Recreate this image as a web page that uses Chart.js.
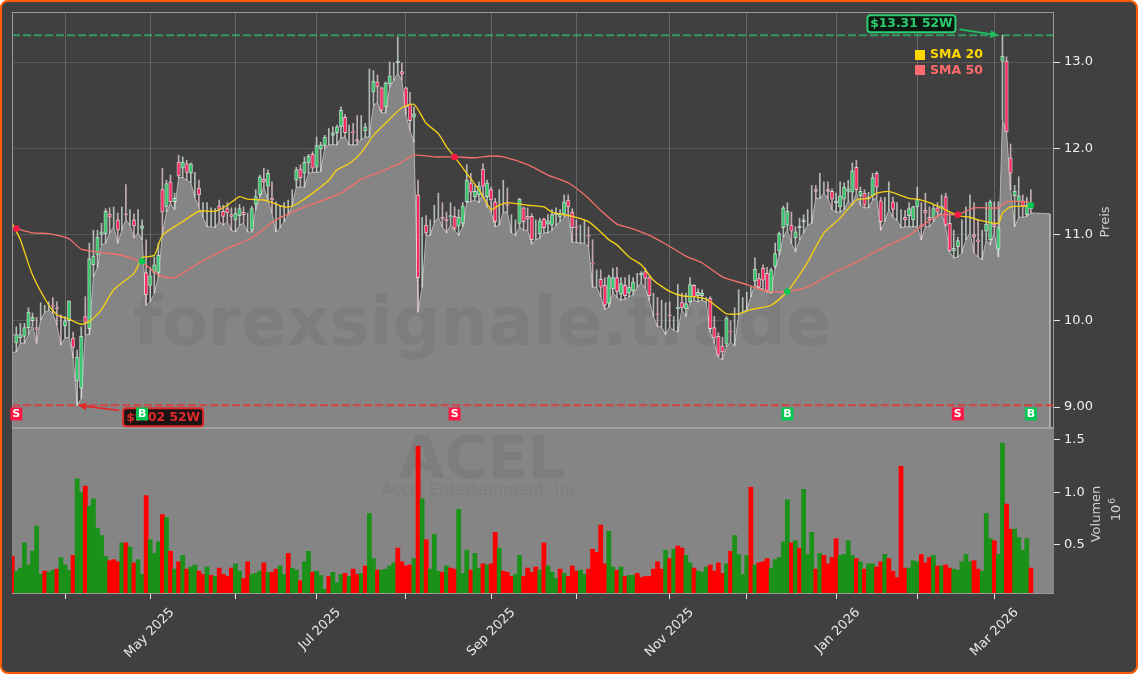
<!DOCTYPE html>
<html>
<head>
<meta charset="utf-8">
<title>ACEL</title>
<script src="https://cdn.jsdelivr.net/npm/chart.js@4/dist/chart.umd.min.js"></script>
<style>
  body { margin: 0; background: #fff; }
  #frame { position: relative; width: 1138px; height: 674px; box-sizing: border-box; background: #404040; border: 2px solid #ff5a00; border-radius: 8px; }
  #chart { position: absolute; left: -2px; top: -2px; }
</style>
</head>
<body>
<div id="frame"><canvas id="chart" width="1138" height="674"></canvas></div>
<script>
// daily candles (one row = 10 trading days)
const opens = [
  9.84,9.74,9.80,9.82,9.92,10.00,9.92,10.07,10.13,10.17,
  10.18,10.15,10.05,9.94,10.00,9.80,9.30,9.22,10.05,9.91,
  10.65,10.76,11.00,11.01,11.24,11.16,11.17,11.15,11.24,11.21,
  11.17,11.16,11.07,10.56,10.41,10.56,10.56,11.52,11.32,11.61,
  11.38,11.84,11.77,11.82,11.71,11.56,11.54,11.31,11.26,11.23,
  11.21,11.33,11.27,11.30,11.23,11.17,11.22,11.26,11.21,11.05,
  11.35,11.46,11.64,11.56,11.42,11.23,11.21,11.21,11.29,11.43,
  11.63,11.76,11.71,11.83,11.93,11.78,11.99,12.03,12.11,12.15,
  12.18,12.25,12.36,12.19,12.19,12.10,12.21,12.20,12.60,12.65,
  12.77,12.70,12.48,12.75,12.89,12.99,12.89,12.70,12.51,12.36,
  11.46,10.91,11.11,11.08,11.21,11.31,11.20,11.18,11.20,11.21,
  11.10,11.13,11.38,11.60,11.44,11.46,11.76,11.44,11.52,11.38,
  11.31,11.41,11.35,11.11,11.11,11.13,11.31,11.21,11.21,11.07,
  11.01,11.18,11.12,11.11,11.23,11.20,11.24,11.40,11.26,11.09,
  11.01,11.06,10.99,10.67,10.51,10.48,10.41,10.20,10.37,10.50,
  10.31,10.41,10.32,10.35,10.46,10.53,10.57,10.50,10.14,10.08,
  10.06,10.02,10.07,9.97,10.14,10.21,10.14,10.22,10.41,10.29,
  10.29,10.23,10.26,9.92,9.82,9.71,9.73,9.88,9.91,10.21,
  10.11,10.21,10.35,10.46,10.49,10.61,10.55,10.33,10.63,10.81,
  11.08,11.11,11.11,10.96,11.08,11.15,11.21,11.36,11.52,11.50,
  11.53,11.52,11.50,11.37,11.32,11.41,11.50,11.49,11.78,11.45,
  11.48,11.41,11.45,11.71,11.39,11.31,11.41,11.38,11.26,11.16,
  11.20,11.22,11.17,11.32,11.11,11.28,11.20,11.19,11.31,11.31,
  11.44,11.13,10.81,10.86,11.01,11.11,11.31,11.00,10.94,10.91,
  11.04,10.94,11.12,10.83,13.01,13.01,11.89,11.45,11.38,11.39,11.23,11.34
];
const highs = [
  10.06,9.93,9.97,9.97,10.15,10.09,10.04,10.21,10.18,10.22,
  10.27,10.22,10.07,10.05,10.23,9.87,9.66,9.93,10.28,10.90,
  11.05,11.05,11.13,11.30,11.31,11.32,11.25,11.32,11.58,11.29,
  11.24,11.29,11.17,10.94,10.62,10.74,10.90,11.77,11.63,11.69,
  11.48,11.92,11.90,11.86,11.83,11.72,11.63,11.37,11.37,11.31,
  11.30,11.40,11.34,11.37,11.31,11.31,11.35,11.32,11.25,11.33,
  11.52,11.69,11.77,11.75,11.61,11.38,11.34,11.37,11.40,11.52,
  11.78,11.81,11.90,11.93,11.96,12.13,12.07,12.15,12.23,12.25,
  12.27,12.48,12.39,12.27,12.29,12.38,12.38,12.29,12.92,12.90,
  12.85,12.71,12.77,13.00,12.99,13.29,12.99,12.71,12.65,12.48,
  11.63,11.20,11.22,11.17,11.34,11.48,11.37,11.26,11.37,11.32,
  11.29,11.37,11.81,11.71,11.57,11.61,11.82,11.63,11.55,11.42,
  11.52,11.63,11.54,11.23,11.17,11.42,11.32,11.31,11.24,11.17,
  11.19,11.19,11.23,11.29,11.31,11.29,11.46,11.46,11.30,11.17,
  11.11,11.17,11.09,10.94,10.59,10.59,10.50,10.53,10.61,10.62,
  10.50,10.50,10.53,10.50,10.55,10.57,10.61,10.52,10.32,10.27,
  10.24,10.21,10.22,10.05,10.42,10.32,10.32,10.50,10.42,10.37,
  10.36,10.27,10.28,10.05,9.86,9.81,10.05,10.00,10.15,10.36,
  10.27,10.33,10.39,10.73,10.55,10.65,10.62,10.61,10.90,11.03,
  11.33,11.37,11.26,11.09,11.19,11.23,11.29,11.57,11.57,11.71,
  11.61,11.61,11.53,11.48,11.61,11.60,11.63,11.83,11.86,11.55,
  11.52,11.49,11.71,11.73,11.43,11.43,11.61,11.43,11.37,11.29,
  11.28,11.37,11.33,11.55,11.37,11.48,11.32,11.34,11.37,11.46,
  11.48,11.25,11.05,10.97,11.17,11.32,11.46,11.37,11.17,11.05,
  11.37,11.40,11.38,11.38,13.31,13.06,12.05,11.57,11.67,11.46,11.43,11.52
];
const lows = [
  9.63,9.64,9.74,9.74,9.84,9.95,9.74,10.01,10.10,10.12,
  10.09,9.95,9.72,9.80,9.81,9.57,9.02,9.10,9.84,9.84,
  10.51,10.62,10.88,10.90,11.02,11.09,10.90,11.05,11.17,11.11,
  10.96,11.02,10.94,10.18,10.22,10.32,10.51,11.00,11.26,11.36,
  11.29,11.66,11.66,11.63,11.60,11.43,11.32,11.20,11.09,11.09,
  11.08,11.15,11.11,11.15,11.05,11.03,11.11,11.13,11.03,11.03,
  11.29,11.44,11.55,11.40,11.25,11.03,11.08,11.15,11.23,11.34,
  11.55,11.55,11.55,11.71,11.72,11.72,11.73,12.00,12.04,12.04,
  12.04,12.12,12.13,12.04,12.04,12.04,12.10,12.13,12.13,12.50,
  12.53,12.41,12.41,12.71,12.79,12.87,12.79,12.39,12.21,12.07,
  10.10,10.39,10.99,10.99,11.14,11.20,11.09,11.02,11.11,11.05,
  10.99,11.09,11.37,11.38,11.40,11.37,11.48,11.32,11.26,11.09,
  11.11,11.26,11.26,11.02,10.99,11.09,11.05,11.05,10.89,10.94,
  10.96,11.02,11.02,11.05,11.11,11.15,11.20,11.23,10.91,10.91,
  10.90,10.90,10.86,10.39,10.39,10.28,10.13,10.16,10.33,10.27,
  10.24,10.25,10.28,10.30,10.39,10.44,10.38,10.23,10.05,9.93,
  9.93,9.84,9.93,9.89,9.87,10.13,10.05,10.21,10.24,10.22,
  10.24,10.21,9.87,9.74,9.58,9.55,9.70,9.75,9.71,10.07,
  10.10,10.13,10.28,10.42,10.38,10.37,10.33,10.32,10.61,10.76,
  10.97,11.05,10.90,10.80,10.94,11.02,11.11,11.13,11.42,11.42,
  11.48,11.42,11.29,11.26,11.26,11.29,11.39,11.34,11.48,11.34,
  11.31,11.31,11.40,11.43,11.05,11.15,11.29,11.20,11.17,11.08,
  11.09,11.09,11.09,11.09,10.94,11.09,11.09,11.15,11.23,11.25,
  11.09,10.80,10.73,10.74,10.79,10.94,11.02,10.79,10.74,10.71,
  10.94,10.88,11.02,10.74,12.33,12.19,11.52,11.09,11.20,11.20,11.21,11.25
];
const closes = [
  9.83,9.84,9.84,9.92,10.10,10.04,9.90,10.07,10.13,10.17,
  10.17,10.14,10.04,10.00,10.23,9.69,9.58,9.82,9.98,10.72,
  10.75,10.97,11.03,11.27,11.20,11.16,11.05,11.15,11.23,11.21,
  11.10,11.16,11.10,10.30,10.52,10.65,10.76,11.26,11.59,11.38,
  11.42,11.68,11.84,11.72,11.82,11.56,11.46,11.31,11.26,11.23,
  11.21,11.29,11.21,11.25,11.21,11.25,11.30,11.23,11.21,11.30,
  11.44,11.67,11.61,11.71,11.40,11.23,11.21,11.21,11.29,11.43,
  11.75,11.66,11.84,11.91,11.77,12.03,12.04,12.13,12.11,12.18,
  12.25,12.44,12.18,12.19,12.18,12.08,12.21,12.25,12.60,12.78,
  12.71,12.44,12.76,12.84,12.89,13.01,12.86,12.48,12.32,12.40,
  10.50,10.91,11.02,11.08,11.21,11.31,11.18,11.16,11.22,11.07,
  11.20,11.33,11.63,11.49,11.50,11.56,11.56,11.60,11.40,11.15,
  11.31,11.41,11.34,11.11,11.11,11.41,11.15,11.18,10.94,11.07,
  11.16,11.08,11.16,11.23,11.25,11.24,11.38,11.32,11.08,11.08,
  11.01,11.06,10.98,10.66,10.51,10.39,10.18,10.51,10.50,10.34,
  10.43,10.29,10.39,10.45,10.46,10.55,10.49,10.29,10.14,10.07,
  10.06,10.02,10.06,9.97,10.16,10.15,10.20,10.42,10.28,10.33,
  10.32,10.23,9.91,9.80,9.60,9.64,10.03,9.87,9.91,10.21,
  10.11,10.21,10.35,10.60,10.39,10.47,10.35,10.59,10.78,11.01,
  11.31,11.27,11.04,11.03,11.10,11.17,11.21,11.36,11.50,11.50,
  11.53,11.50,11.41,11.39,11.45,11.55,11.53,11.74,11.52,11.50,
  11.34,11.43,11.66,11.55,11.15,11.31,11.41,11.29,11.26,11.16,
  11.17,11.30,11.32,11.41,11.09,11.25,11.17,11.30,11.26,11.33,
  11.11,10.81,10.84,10.93,11.01,11.11,11.31,10.97,10.92,10.91,
  11.12,11.38,11.09,11.08,13.07,12.19,11.71,11.50,11.45,11.33,11.34,11.30
];

// volume in millions, with the bar colour side (G up, R down)
const volumes = [
  .39,.25,.28,.52,.31,.44,.68,.22,.25,.24,
  .26,.27,.38,.31,.26,.40,1.13,1.00,1.06,.87,
  .94,.66,.59,.39,.35,.36,.34,.52,.52,.48,
  .33,.36,.22,.97,.55,.42,.53,.79,.76,.44,
  .27,.34,.40,.27,.29,.31,.25,.22,.29,.21,
  .20,.28,.22,.20,.28,.32,.25,.18,.34,.22,
  .23,.25,.33,.24,.24,.27,.30,.22,.42,.28,
  .26,.16,.34,.44,.24,.25,.21,.08,.20,.24,
  .14,.22,.23,.20,.27,.22,.23,.30,.80,.37,
  .26,.26,.27,.30,.33,.47,.34,.30,.31,.37,
  1.44,.94,.55,.27,.60,.25,.24,.30,.28,.27,
  .84,.23,.45,.26,.42,.28,.32,.31,.32,.62,
  .47,.25,.24,.20,.22,.40,.20,.28,.24,.29,
  .26,.52,.30,.24,.18,.27,.23,.20,.30,.25,
  .26,.22,.27,.46,.43,.69,.32,.63,.29,.26,
  .29,.20,.21,.21,.23,.19,.20,.20,.27,.34,
  .27,.45,.37,.46,.49,.47,.40,.33,.28,.25,
  .24,.29,.31,.25,.33,.23,.32,.44,.59,.41,
  .22,.40,1.05,.31,.33,.34,.37,.28,.36,.38,
  .53,.93,.52,.54,.47,1.03,.41,.62,.27,.42,
  .40,.32,.38,.56,.40,.41,.54,.40,.37,.34,
  .27,.32,.32,.29,.34,.41,.37,.25,.19,1.25,
  .28,.28,.35,.34,.41,.33,.38,.40,.30,.30,
  .31,.28,.27,.26,.34,.41,.34,.35,.27,.25,
  .80,.56,.54,.41,1.47,.89,.65,.65,.57,.45,.56,.28
];
const volumeSides =
  "RGGGGGGGRG" + "GRGGGRGGRG" + "GGGGRRRGRG" + "RGGRGGGRGR" + "GRGRGGRRGR" +
  "GRRRRGGRRG" + "GGRGRRGGRG" + "GRGGRGGGRG" + "GGRGRRGRGG" + "RGGGGRRRRG" +
  "RGRGGGRGRR" + "GGGRGGRGRR" + "GRRRGGRRRR" + "GRGGGRGRRR" + "GGRRRRRGGR" +
  "GRGGRRRRRR" + "RGRGRRGGRG" + "GGRRRRGRGG" + "GGRGRRRGGG" + "GGRGRGGGRG" +
  "RRRRGGGGRG" + "RGGRRGRRRR" + "RGGGRRRGRG" + "RRGGGGGRRG" + "GGRGGRRGGGGR";

// moving averages, read at the bends of the lines (trading day, price)
const sma20Days = [0,2,5,9,11,14,17,19,22,25,30,32,35,37,42,46,50,53,56,58,62,64,67,69,71,74,78,80,83,86,89,92,96,99,102,105,107,109,112,115,118,120,122,127,131,133,138,142,145,147,149,152,155,158,162,165,168,171,174,176,179,182,187,191,196,200,204,208,211,213,216,221,223,226,229,233,236,238,243,244,246,250,251];
const sma20Values = [11.13,10.94,10.53,10.18,10.07,10.02,9.96,9.99,10.13,10.36,10.55,10.73,10.76,10.99,11.15,11.27,11.27,11.34,11.44,11.41,11.40,11.37,11.32,11.33,11.38,11.48,11.63,11.75,11.82,11.95,12.15,12.29,12.47,12.51,12.29,12.17,12.02,11.90,11.71,11.52,11.29,11.34,11.37,11.34,11.32,11.26,11.21,11.15,11.03,10.94,10.88,10.74,10.65,10.47,10.34,10.29,10.28,10.25,10.15,10.08,10.08,10.13,10.18,10.34,10.68,11.02,11.19,11.40,11.42,11.48,11.50,11.42,11.41,11.37,11.31,11.22,11.20,11.17,11.13,11.25,11.32,11.33,11.33];
const sma50Days = [0,1,5,9,14,17,22,27,32,36,40,46,53,59,65,71,75,81,86,91,96,99,104,109,114,118,121,127,132,137,141,145,149,152,157,161,166,170,175,181,186,191,196,202,209,211,216,221,225,229,233,237,243,245,250,251];
const sma50Values = [11.08,11.07,11.02,11.01,10.95,10.83,10.79,10.76,10.68,10.53,10.50,10.67,10.84,10.96,11.17,11.30,11.37,11.48,11.64,11.73,11.84,11.92,11.90,11.90,11.89,11.91,11.90,11.81,11.69,11.60,11.46,11.28,11.12,11.08,10.99,10.89,10.75,10.67,10.51,10.42,10.34,10.34,10.39,10.55,10.70,10.76,10.88,10.99,11.13,11.23,11.23,11.31,11.31,11.38,11.38,11.37];

// crossover signals
const crossDays = [1,32,109,191,233,251];
const crossValues = [11.07,10.69,11.90,10.34,11.23,11.34];
const crossKinds = ["S","B","S","B","S","B"];

// 52 week range
const high52 = 13.31;
const low52 = 9.02;
const high52Day = 244;
const low52Day = 16;
const high52Label = "$13.31 52W";
const low52Label = "$9.02 52W";

// axes
const monthDays = [13,34,55,75,97,118,139,162,181,203,223,242];
const monthLabels = ["","May 2025","","Jul 2025","","Sep 2025","","Nov 2025","","Jan 2026","","Mar 2026"];
const priceTicks = [13,12,11,10,9];
const priceLabels = ["13.0","12.0","11.0","10.0","9.00"];
const volumeTicks = [0.5,1,1.5];
const volumeLabels = ["0.5","1.0","1.5"];

const lastDay = 255.7; // where the shaded area stops
const areaEndValue = 11.24;
const priceMin = 8.757, priceMax = 13.58;
const volMin = 0.033, volMax = 1.614;
const dayMin = -0.06, dayMax = 256.7;

const font = '"DejaVu Sans"';
const GREEN = "#00c853", RED = "#ff1744";

const days = closes.map((c, i) => i);
const areaPoints = days.map(i => ({ x: i, y: lows[i] }));
areaPoints.push({ x: lastDay, y: areaEndValue });
areaPoints.push({ x: lastDay, y: priceMin });

function drawLabelBox(ctx, text, x, y, w, h, color, fill) {
  ctx.fillStyle = fill;
  ctx.strokeStyle = color;
  ctx.lineWidth = 2;
  ctx.beginPath();
  ctx.roundRect(x, y, w, h, 3);
  ctx.fill();
  ctx.stroke();
  ctx.fillStyle = color;
  ctx.font = `bold 12.3px ${font}`;
  ctx.textAlign = "center";
  ctx.textBaseline = "middle";
  ctx.fillText(text, x + w / 2, y + h / 2 + 0.5);
}

function drawArrow(ctx, x1, y1, x2, y2, color) {
  const a = Math.atan2(y2 - y1, x2 - x1);
  ctx.strokeStyle = color;
  ctx.fillStyle = color;
  ctx.lineWidth = 1.8;
  ctx.beginPath();
  ctx.moveTo(x1, y1);
  ctx.lineTo(x2 - 6 * Math.cos(a), y2 - 6 * Math.sin(a));
  ctx.stroke();
  ctx.beginPath();
  ctx.moveTo(x2, y2);
  ctx.lineTo(x2 - 9 * Math.cos(a - 0.45), y2 - 9 * Math.sin(a - 0.45));
  ctx.lineTo(x2 - 9 * Math.cos(a + 0.45), y2 - 9 * Math.sin(a + 0.45));
  ctx.closePath();
  ctx.fill();
}

const panelPlugin = {
  id: "panels",
  // grey background of the volume panel, over the grid lines
  beforeDatasetsDraw(chart) {
    const { ctx, chartArea, scales } = chart;
    ctx.save();
    ctx.fillStyle = "#858585";
    ctx.fillRect(chartArea.left, scales.yVol.top, chartArea.right - chartArea.left, scales.yVol.bottom - scales.yVol.top);
    ctx.restore();
  },
  // watermarks go right above the area, under the candles
  afterDatasetDraw(chart, args) {
    if (args.index !== 0) return;
    const { ctx } = chart;
    ctx.save();
    ctx.fillStyle = "rgba(0,0,0,0.055)";
    ctx.textAlign = "center";
    ctx.textBaseline = "middle";
    ctx.font = `bold 67px ${font}`;
    ctx.fillText("forexsignale.trade", 482, 328);
    ctx.font = `bold 58.5px ${font}`;
    ctx.fillText("ACEL", 482, 463);
    ctx.font = `16px ${font}`;
    ctx.fillText("Accel Entertainment, Inc", 480, 491);
    ctx.restore();
  },
  afterDatasetsDraw(chart) {
    const { ctx, chartArea, scales } = chart;
    const x = scales.x, yP = scales.yPrice;
    ctx.save();

    // spines
    ctx.strokeStyle = "#9a9a9a";
    ctx.lineWidth = 1;
    ctx.strokeRect(chartArea.left + 0.5, chartArea.top + 0.5, chartArea.right - chartArea.left - 1, yP.bottom - chartArea.top);
    ctx.fillStyle = "#a0a0a0";
    ctx.fillRect(chartArea.left, yP.bottom - 1, chartArea.right - chartArea.left, 2);
    ctx.fillStyle = "#9a9a9a";
    ctx.fillRect(chartArea.left, chartArea.bottom - 1, chartArea.right - chartArea.left, 1);

    // 52 week labels
    const hx = x.getPixelForValue(high52Day), hy = yP.getPixelForValue(high52);
    drawArrow(ctx, hx - 43, hy - 6, hx - 4, hy, "#20c060");
    drawLabelBox(ctx, high52Label, hx - 135, hy - 20, 88, 17, "#2ecc71", "#0b1a10");
    const lx = x.getPixelForValue(low52Day), ly = yP.getPixelForValue(low52);
    drawArrow(ctx, lx + 42, ly + 5, lx + 1, ly, "#e02a2a");
    drawLabelBox(ctx, low52Label, lx + 46, ly + 3, 80, 18, "#e02a2a", "#1c1414");

    // signal squares under the candles
    ctx.font = `bold 11px ${font}`;
    ctx.textAlign = "center";
    ctx.textBaseline = "middle";
    crossDays.forEach((d, i) => {
      const px = x.getPixelForValue(d);
      const py = yP.getPixelForValue(8.92);
      ctx.fillStyle = crossKinds[i] === "S" ? RED : GREEN;
      ctx.fillRect(px - 6, py - 6.5, 12, 13);
      ctx.fillStyle = "#fff";
      ctx.fillText(crossKinds[i], px, py + 0.5);
    });

    // legend
    ctx.textAlign = "left";
    ctx.font = `bold 12.5px ${font}`;
    ctx.fillStyle = "#ffd700";
    ctx.fillRect(915, 50, 10, 10);
    ctx.fillText("SMA 20", 930, 54.5);
    ctx.fillStyle = "#ff6b6b";
    ctx.fillRect(915, 65, 10, 10);
    ctx.fillText("SMA 50", 930, 70.5);

    // axis titles read bottom to top on the right side
    ctx.fillStyle = "#cfcfcf";
    ctx.font = `13px ${font}`;
    ctx.textAlign = "center";
    [["Preis", 1106, 222], ["Volumen", 1097, 514], ["10", 1117, 513]].forEach(t => {
      ctx.save();
      ctx.translate(t[1], t[2]);
      ctx.rotate(-Math.PI / 2);
      ctx.fillText(t[0], 0, 0);
      ctx.restore();
    });
    ctx.save();
    ctx.translate(1113, 501);
    ctx.rotate(-Math.PI / 2);
    ctx.font = `9px ${font}`;
    ctx.fillText("6", 0, 0);
    ctx.restore();

    ctx.restore();
  }
};

new Chart(document.getElementById("chart"), {
  data: {
    datasets: [
      {
        type: "line", label: "Area", xAxisID: "x", yAxisID: "yPrice", order: 20,
        data: areaPoints, fill: "start", backgroundColor: "#858585",
        borderColor: "#b4b4b4", borderWidth: 1, pointRadius: 0, tension: 0
      },
      {
        type: "bar", label: "Volumen", xAxisID: "x", yAxisID: "yVol", order: 15,
        data: days.map(i => ({ x: i, y: volumes[i] })),
        backgroundColor: days.map(i => volumeSides[i] === "G" ? "#1a9119" : "#ff0000"),
        barThickness: 4.1, grouped: false
      },
      {
        type: "line", label: "52W high", xAxisID: "x", yAxisID: "yPrice", order: 14,
        data: [{ x: dayMin, y: high52 }, { x: dayMax, y: high52 }],
        borderColor: "rgba(46,204,113,0.65)", borderWidth: 2, borderDash: [8, 3], pointRadius: 0
      },
      {
        type: "line", label: "52W low", xAxisID: "x", yAxisID: "yPrice", order: 14,
        data: [{ x: dayMin, y: low52 }, { x: dayMax, y: low52 }],
        borderColor: "rgba(230,50,50,0.8)", borderWidth: 2, borderDash: [8, 3], pointRadius: 0
      },
      {
        type: "bar", label: "Wicks", xAxisID: "x", yAxisID: "yPrice", order: 10,
        data: days.map(i => ({ x: i, y: [lows[i], highs[i]] })),
        backgroundColor: days.map(i => closes[i] < opens[i] ? "rgba(250,215,225,0.7)" : "rgba(225,240,230,0.7)"),
        barThickness: 1, grouped: false
      },
      {
        type: "bar", label: "Bodies", xAxisID: "x", yAxisID: "yPrice", order: 9,
        data: days.map(i => ({ x: i, y: [opens[i], closes[i]] })),
        backgroundColor: days.map(i => closes[i] < opens[i] ? "#ff2a5f" : "#35c96c"),
        borderColor: "rgba(255,255,255,0.6)", borderWidth: 1, borderSkipped: false,
        barThickness: 3.6, grouped: false
      },
      {
        type: "line", label: "SMA 50", xAxisID: "x", yAxisID: "yPrice", order: 4,
        data: sma50Days.map((d, i) => ({ x: d, y: sma50Values[i] })),
        borderColor: "#f0706c", borderWidth: 1.35, pointRadius: 0, tension: 0.2
      },
      {
        type: "line", label: "SMA 20", xAxisID: "x", yAxisID: "yPrice", order: 3,
        data: sma20Days.map((d, i) => ({ x: d, y: sma20Values[i] })),
        borderColor: "#f4cf17", borderWidth: 1.35, pointRadius: 0, tension: 0.2
      },
      {
        type: "line", label: "Crossings", xAxisID: "x", yAxisID: "yPrice", order: 1,
        data: crossDays.map((d, i) => ({ x: d, y: crossValues[i] })),
        showLine: false, pointRadius: 3.2, borderWidth: 0,
        pointBackgroundColor: crossKinds.map(k => k === "S" ? RED : GREEN)
      }
    ]
  },
  options: {
    responsive: false,
    animation: false,
    layout: { padding: { left: 12, top: 12, right: 0, bottom: 0 } },
    plugins: { legend: { display: false }, tooltip: { enabled: false }, title: { display: false } },
    scales: {
      x: {
        type: "linear",
        min: dayMin,
        max: dayMax,
        offset: false,
        afterBuildTicks: scale => { scale.ticks = monthDays.map(v => ({ value: v })); },
        afterFit: scale => { scale.height = 80; },
        border: { display: false },
        grid: { offset: false, color: "rgba(255,255,255,0.2)", tickColor: "#e8e8e8", tickLength: 5 },
        ticks: {
          autoSkip: false,
          maxRotation: 45,
          minRotation: 45,
          color: "#e8e8e8",
          font: { family: font, size: 13 },
          labelOffset: 22,
          padding: 6,
          callback: (v, i) => monthLabels[i]
        }
      },
      yPrice: {
        type: "linear",
        position: "right",
        stack: "panels",
        stackWeight: 416,
        min: priceMin,
        max: priceMax,
        afterBuildTicks: scale => { scale.ticks = priceTicks.map(v => ({ value: v })); },
        afterFit: scale => { scale.width = 84; },
        border: { display: false },
        grid: { color: "rgba(255,255,255,0.13)", tickColor: "#e8e8e8", tickLength: 6 },
        ticks: {
          color: "#f0f0f0",
          padding: 4,
          font: { family: font, size: 13 },
          callback: (v, i) => priceLabels[i]
        }
      },
      yVol: {
        type: "linear",
        position: "right",
        stack: "panels",
        stackWeight: 166,
        min: volMin,
        max: volMax,
        afterBuildTicks: scale => { scale.ticks = volumeTicks.map(v => ({ value: v })); },
        afterFit: scale => { scale.width = 84; },
        border: { display: false },
        grid: { drawOnChartArea: false, tickColor: "#e8e8e8", tickLength: 6 },
        ticks: {
          color: "#f0f0f0",
          padding: 4,
          font: { family: font, size: 13 },
          callback: (v, i) => volumeLabels[i]
        }
      }
    }
  },
  plugins: [panelPlugin]
});
</script>
</body>
</html>
